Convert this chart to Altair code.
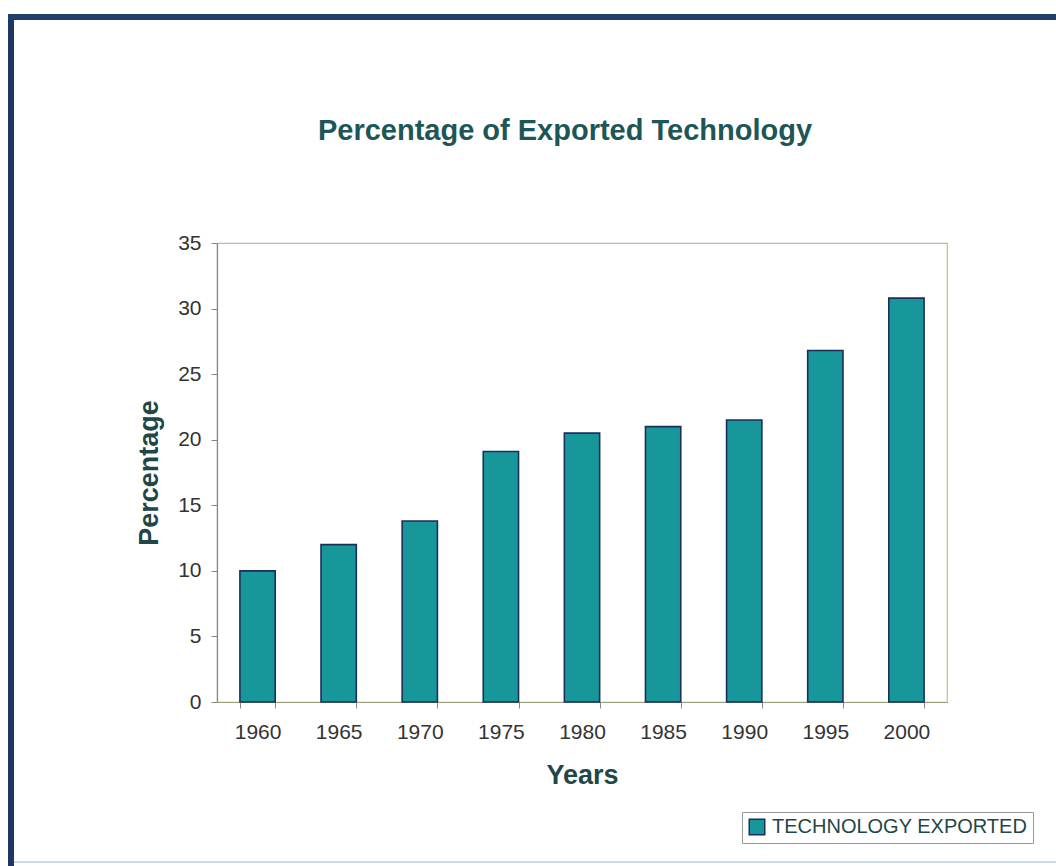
import altair as alt
import pandas as pd

years = ["1960", "1965", "1970", "1975", "1980", "1985", "1990", "1995", "2000"]
values = [10.0, 12.0, 13.8, 19.1, 20.5, 21.0, 21.5, 26.8, 30.8]
series = ["TECHNOLOGY EXPORTED"] * len(years)

df = pd.DataFrame({"Year": years, "Percentage": values, "Series": series})

FONT = "Liberation Sans"
PLOT_W, PLOT_H = 730, 459
LEFT, TOP = 217, 243
TOTAL_W, TOTAL_H = 1056, 866

xscale = alt.Scale(paddingInner=0.565, paddingOuter=0.2825)

bars = alt.Chart(df).mark_bar(stroke="#1b2f5c", strokeWidth=1.6).encode(
    x=alt.X("Year:N", scale=xscale, sort=years,
            axis=alt.Axis(title="Years", labelAngle=0, ticks=True, tickBand="extent",
                          tickSize=6, tickColor="#888888", labelPadding=13,
                          labelFontSize=21, labelColor="#333333", labelFont=FONT,
                          titleFont=FONT, titleFontSize=27, titleFontWeight="bold",
                          titleColor="#1f4747", titlePadding=20,
                          domainColor="#9aa07a", domainWidth=1.2)),
    y=alt.Y("Percentage:Q", scale=alt.Scale(domain=[0, 35], nice=False),
            axis=alt.Axis(title="Percentage", values=[0, 5, 10, 15, 20, 25, 30, 35],
                          grid=False, tickSize=6, tickColor="#888888",
                          labelPadding=10, labelFontSize=21, labelColor="#333333",
                          labelFont=FONT, titleFont=FONT, titleFontSize=27,
                          titleFontWeight="bold", titleColor="#1f4747", titlePadding=14,
                          domainColor="#888888", domainWidth=1.2)),
    color=alt.Color("Series:N", scale=alt.Scale(range=["#17979a"]),
                    legend=alt.Legend(title=None, orient="none", legendX=525, legendY=569,
                                      symbolType="square", symbolSize=240,
                                      symbolStrokeColor="#1b2f5c", symbolStrokeWidth=1.5,
                                      labelFont=FONT, labelFontSize=20, labelColor="#1f4747",
                                      labelOffset=5, strokeColor="#999999", fillColor="white",
                                      padding=5, labelLimit=400)),
)

frame_left = alt.Chart(df).mark_rule(color="#1f3566", strokeWidth=6).encode(
    x=alt.value(11 - LEFT), y=alt.value(14 - TOP), y2=alt.value(TOTAL_H - TOP)
)
frame_top = alt.Chart(df).mark_rule(color="#1f3f6a", strokeWidth=6).encode(
    x=alt.value(8 - LEFT), x2=alt.value(TOTAL_W - LEFT), y=alt.value(17 - TOP)
)
frame_bottom = alt.Chart(df).mark_rule(color="#c9dbe8", strokeWidth=2).encode(
    x=alt.value(14 - LEFT), x2=alt.value(TOTAL_W - LEFT), y=alt.value(862 - TOP)
)

chart = alt.layer(bars, frame_left, frame_top, frame_bottom).properties(
    width=PLOT_W,
    height=PLOT_H,
    autosize=alt.AutoSizeParams(type="none"),
    padding={"left": LEFT, "top": TOP, "right": TOTAL_W - LEFT - PLOT_W,
             "bottom": TOTAL_H - TOP - PLOT_H},
    title=alt.Title("Percentage of Exported Technology", font=FONT, fontSize=29,
                    fontWeight="bold", color="#1d5656", offset=-135, dx=-17,
                    anchor="middle"),
    background="white",
).configure_view(stroke="#b9c29a", strokeWidth=1.2)

chart.save("out.html", embed_options={"renderer": "svg", "actions": False})
